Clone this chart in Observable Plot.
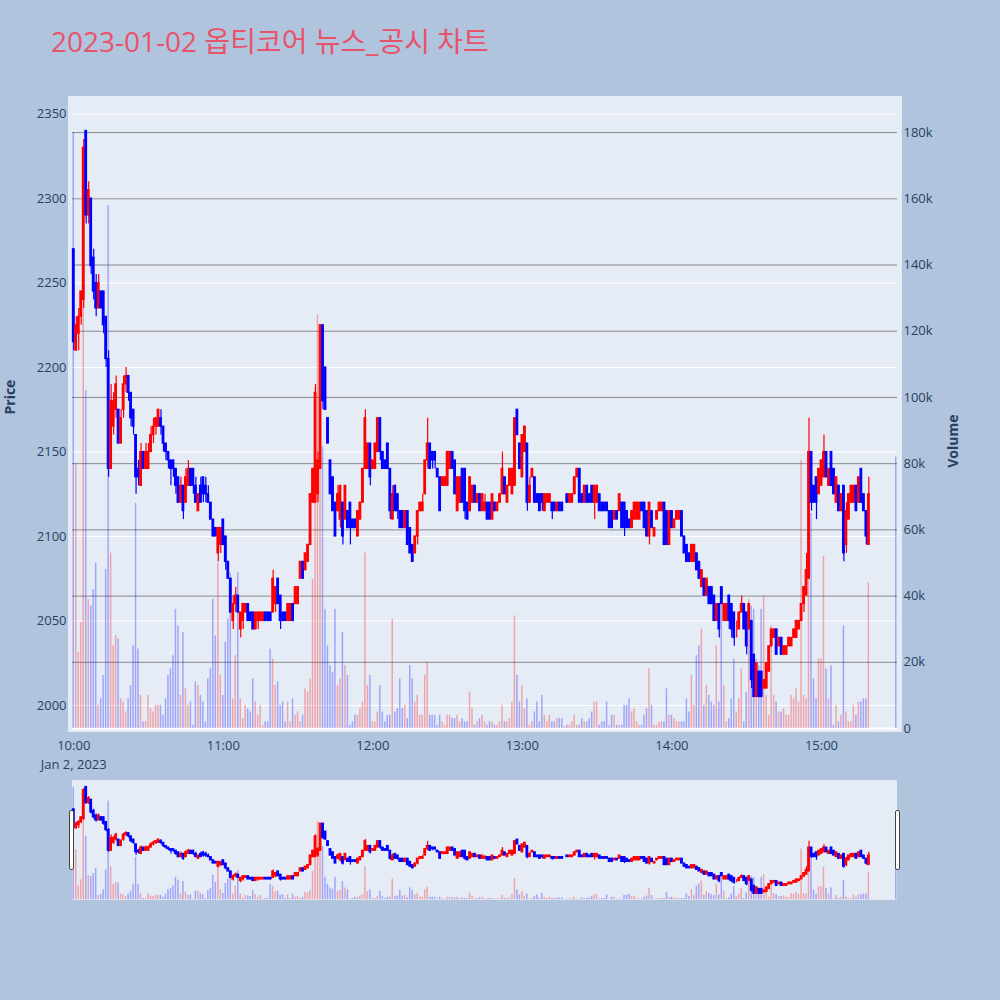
<!DOCTYPE html>
<html>
<head>
<meta charset="utf-8">
<script src="https://cdn.jsdelivr.net/npm/d3@7"></script>
<script src="https://cdn.jsdelivr.net/npm/@observablehq/plot@0.6"></script>
<style>
  html, body { margin: 0; padding: 0; background: #b0c4de; }
  #wrap { position: relative; width: 1000px; height: 1000px; overflow: hidden; background: #b0c4de; }
  .bg { position: absolute; background: #e5ecf6; }
  .grab { position: absolute; background: #ffffff; border: 1px solid #444; border-radius: 2px; box-sizing: border-box; }
</style>
</head>
<body>
<div id="wrap">
  <div class="bg" style="left:68px;top:96px;width:834px;height:636px;"></div>
  <div class="bg" style="left:72px;top:780px;width:825px;height:120px;"></div>
</div>
<script>
// ---------------- data ----------------
const chartTitle = "2023-01-02 옵티코어 뉴스_공시 차트";
const dateLabel = "Jan 2, 2023";
const hourTicks = [0, 60, 120, 180, 240, 300];          // minutes after 10:00
const hourLabels = ["10:00", "11:00", "12:00", "13:00", "14:00", "15:00"];
const auctionMinute = 330;                              // 15:30 closing auction (last entry)
const priceTicks = [2000, 2050, 2100, 2150, 2200, 2250, 2300, 2350];
const volumeTicks = [0, 20000, 40000, 60000, 80000, 100000, 120000, 140000, 160000, 180000];
const volumeTickLabels = ["0", "20k", "40k", "60k", "80k", "100k", "120k", "140k", "160k", "180k"];

// one entry per minute from 10:00 to 15:19, then the 15:30 auction
const open = [
  2270,2210,2220,2230,2240,2340,2290,2300,2265,2250,2235,2245,2245,2230,2205,2140,2165,2175,2175,2155,
  2175,2190,2195,2185,2175,2160,2140,2130,2150,2140,2140,2150,2160,2165,2165,2170,2165,2155,2150,2145,
  2145,2140,2135,2120,2130,2120,2130,2140,2140,2130,2115,2130,2135,2130,2125,2120,2110,2105,2090,2095,
  2110,2100,2085,2075,2050,2060,2065,2045,2050,2055,2060,2055,2055,2045,2050,2050,2050,2055,2055,2055,
  2055,2060,2075,2065,2055,2055,2050,2050,2060,2060,2060,2075,2085,2080,2085,2095,2120,2120,2125,2140,
  2225,2200,2170,2145,2135,2120,2115,2110,2120,2110,2115,2120,2110,2110,2100,2110,2120,2140,2140,2155,
  2140,2140,2150,2170,2150,2145,2155,2140,2110,2130,2125,2115,2115,2105,2115,2105,2095,2090,2100,2115,
  2115,2125,2145,2155,2150,2150,2140,2135,2130,2130,2130,2140,2150,2145,2115,2120,2140,2140,2120,2115,
  2120,2130,2120,2125,2115,2115,2120,2120,2110,2120,2115,2120,2125,2135,2120,2130,2125,2130,2175,2155,
  2135,2150,2155,2120,2135,2135,2125,2125,2125,2115,2120,2120,2120,2120,2115,2120,2120,2130,2125,2120,
  2120,2125,2135,2140,2125,2120,2130,2125,2130,2120,2120,2125,2120,2120,2120,2115,2115,2110,2115,2115,
  2120,2120,2115,2110,2105,2110,2110,2110,2120,2120,2115,2100,2115,2100,2110,2115,2115,2120,2115,2095,
  2115,2105,2110,2110,2115,2100,2095,2090,2085,2085,2090,2085,2070,2075,2065,2070,2070,2065,2050,2060,
  2070,2050,2050,2065,2060,2055,2045,2045,2055,2060,2055,2045,2050,2030,2005,2020,2020,2010,2010,2020,
  2035,2040,2045,2035,2040,2030,2030,2035,2035,2040,2040,2045,2050,2060,2065,2075,2150,2130,2135,2125,
  2130,2135,2150,2130,2150,2140,2120,2130,2115,2130,2095,2110,2120,2120,2130,2120,2140,2125,2115,2095,
  2100
];
const high = [
  2270,2230,2235,2245,2335,2340,2310,2300,2270,2255,2255,2245,2245,2230,2210,2190,2185,2195,2175,2175,
  2195,2200,2195,2185,2175,2160,2145,2155,2150,2155,2155,2165,2170,2170,2175,2175,2165,2155,2150,2145,
  2145,2140,2135,2135,2130,2140,2145,2140,2140,2135,2125,2135,2135,2135,2130,2120,2110,2105,2105,2105,
  2110,2100,2085,2075,2065,2070,2065,2055,2060,2060,2060,2055,2055,2055,2055,2055,2055,2055,2055,2055,
  2080,2070,2075,2065,2055,2055,2060,2060,2060,2070,2070,2085,2085,2090,2095,2125,2140,2190,2150,2225,
  2225,2200,2170,2145,2135,2120,2130,2130,2120,2130,2115,2120,2110,2110,2115,2120,2140,2175,2155,2155,
  2145,2155,2170,2170,2150,2145,2155,2140,2130,2130,2125,2115,2115,2115,2115,2105,2095,2100,2115,2120,
  2125,2145,2170,2155,2150,2150,2140,2135,2135,2135,2150,2150,2150,2145,2135,2135,2140,2140,2120,2135,
  2130,2130,2125,2125,2125,2125,2120,2120,2125,2120,2120,2125,2150,2135,2130,2140,2140,2170,2175,2155,
  2160,2165,2155,2135,2140,2135,2125,2125,2125,2125,2125,2125,2120,2120,2120,2120,2120,2130,2125,2125,
  2125,2135,2140,2140,2125,2130,2130,2125,2130,2130,2130,2125,2120,2120,2120,2115,2115,2115,2115,2125,
  2120,2120,2115,2110,2115,2120,2120,2120,2120,2120,2115,2120,2115,2105,2115,2120,2120,2120,2115,2115,
  2115,2110,2115,2115,2115,2100,2095,2090,2095,2095,2090,2085,2080,2075,2075,2070,2070,2065,2060,2060,
  2070,2060,2060,2065,2060,2055,2050,2055,2065,2060,2055,2060,2050,2030,2025,2020,2020,2015,2025,2035,
  2045,2045,2045,2040,2040,2035,2035,2040,2040,2045,2050,2050,2060,2070,2090,2170,2150,2130,2135,2140,
  2145,2160,2150,2140,2150,2140,2135,2130,2125,2130,2120,2125,2130,2130,2130,2135,2140,2125,2115,2135,
  2100
];
const low = [
  2210,2210,2210,2225,2235,2285,2285,2255,2240,2230,2235,2235,2220,2200,2135,2140,2160,2170,2155,2155,
  2170,2185,2180,2165,2160,2125,2130,2130,2140,2140,2140,2150,2155,2160,2165,2160,2150,2145,2140,2130,
  2135,2125,2120,2120,2110,2120,2130,2130,2125,2120,2115,2120,2120,2120,2120,2110,2100,2100,2085,2090,
  2095,2080,2075,2055,2045,2055,2055,2040,2045,2055,2050,2050,2045,2045,2045,2050,2050,2050,2050,2050,
  2055,2055,2060,2045,2050,2050,2050,2050,2050,2060,2060,2075,2075,2080,2085,2095,2120,2120,2120,2140,
  2175,2175,2155,2125,2115,2100,2115,2105,2095,2110,2105,2095,2105,2105,2100,2110,2120,2140,2140,2130,
  2140,2140,2150,2145,2140,2140,2140,2110,2110,2115,2110,2105,2105,2105,2095,2090,2085,2090,2095,2115,
  2115,2125,2140,2140,2140,2140,2135,2115,2130,2130,2130,2140,2140,2125,2115,2120,2120,2110,2110,2115,
  2120,2120,2120,2115,2115,2115,2110,2110,2110,2115,2115,2120,2125,2125,2120,2130,2125,2130,2160,2140,
  2135,2150,2115,2120,2135,2120,2120,2115,2115,2115,2120,2120,2110,2115,2115,2115,2115,2130,2120,2120,
  2120,2125,2135,2120,2120,2120,2120,2120,2120,2110,2120,2115,2115,2115,2115,2105,2105,2110,2110,2115,
  2105,2100,2105,2105,2105,2110,2110,2110,2115,2105,2100,2095,2105,2100,2110,2115,2115,2095,2095,2095,
  2105,2105,2110,2110,2100,2090,2085,2085,2085,2085,2080,2075,2070,2065,2065,2060,2060,2050,2050,2040,
  2060,2050,2050,2045,2040,2035,2040,2045,2055,2045,2030,2045,2010,2005,2005,2005,2005,2010,2010,2020,
  2035,2040,2030,2035,2030,2030,2030,2035,2035,2040,2040,2045,2050,2055,2065,2075,2115,2120,2110,2125,
  2130,2135,2135,2130,2130,2125,2120,2115,2115,2085,2090,2110,2120,2120,2115,2120,2120,2115,2095,2095,
  2100
];
const close = [
  2215,2225,2230,2245,2330,2290,2305,2260,2245,2235,2250,2235,2225,2205,2140,2180,2180,2190,2155,2170,
  2190,2195,2185,2170,2165,2135,2135,2150,2140,2150,2150,2160,2165,2170,2175,2165,2155,2150,2145,2140,
  2140,2130,2120,2130,2115,2135,2140,2130,2130,2120,2125,2120,2125,2125,2120,2110,2100,2100,2105,2105,
  2095,2085,2075,2055,2060,2065,2055,2055,2060,2060,2050,2050,2045,2055,2055,2055,2055,2050,2050,2050,
  2075,2070,2060,2050,2050,2050,2060,2060,2050,2070,2070,2085,2075,2090,2095,2125,2140,2185,2145,2225,
  2180,2175,2155,2125,2115,2100,2125,2130,2100,2130,2105,2105,2105,2105,2115,2120,2140,2170,2155,2135,
  2145,2155,2170,2150,2140,2140,2140,2115,2125,2115,2115,2105,2105,2115,2095,2090,2085,2100,2115,2120,
  2120,2145,2155,2140,2145,2145,2135,2115,2135,2135,2150,2150,2140,2125,2135,2135,2120,2115,2110,2135,
  2130,2120,2125,2115,2125,2120,2110,2110,2125,2115,2120,2125,2140,2125,2130,2140,2140,2170,2160,2140,
  2160,2165,2120,2130,2140,2120,2120,2115,2120,2125,2125,2125,2115,2115,2120,2115,2115,2130,2120,2125,
  2125,2135,2140,2120,2120,2130,2120,2120,2120,2130,2130,2115,2115,2115,2115,2105,2105,2115,2110,2125,
  2105,2105,2105,2105,2115,2120,2120,2120,2115,2105,2100,2120,2105,2105,2115,2120,2120,2095,2095,2115,
  2105,2110,2115,2115,2100,2090,2085,2085,2095,2095,2080,2075,2080,2065,2075,2060,2060,2050,2060,2045,
  2060,2060,2060,2050,2045,2040,2045,2055,2060,2045,2035,2060,2015,2005,2025,2005,2005,2015,2025,2035,
  2045,2045,2030,2040,2030,2035,2035,2040,2040,2045,2050,2050,2060,2070,2080,2150,2120,2120,2120,2140,
  2145,2150,2135,2140,2130,2125,2135,2115,2125,2090,2115,2125,2130,2130,2115,2135,2120,2115,2100,2125,
  2100
];
// volume in thousands of shares
const volumeK = [
  180,80,23,32,175,102,39,37,42,50,7,9,16,48,158,53,25,28,27,9,
  8,5,9,13,25,68,24,10,2,2,10,6,5,7,7,7,4,9,16,18,
  22,36,31,10,29,12,7,8,1,14,13,10,8,2,15,18,39,28,50,16,
  10,26,33,47,9,22,47,9,3,7,6,5,15,8,4,7,1,2,2,24,
  21,13,14,7,8,2,8,2,9,4,5,2,4,12,11,15,45,103,125,80,
  85,36,25,19,17,36,13,15,29,19,16,1,2,4,4,6,8,53,13,16,
  2,2,5,13,5,2,4,4,33,5,6,15,6,7,3,19,15,8,10,4,
  4,16,20,4,4,4,1,4,2,1,4,4,3,3,4,2,3,2,2,11,
  6,1,2,3,4,2,1,2,2,1,1,2,7,2,2,3,8,34,16,8,
  13,6,9,1,2,5,8,2,10,4,2,4,2,2,3,3,3,0.5,1,1,
  2,4,1,1,3,2,2,3,5,8,8,1,2,2,8,1,4,4,1,1,
  1,7,7,9,5,6,2,1,1,4,6,18,7,1,1,2,2,2,12,4,
  4,3,2,2,2,2,9,5,16,7,22,25,30,7,13,10,8,7,25,8,
  41,13,2,3,9,21,5,9,18,2,11,39,37,36,21,19,36,40,10,4,
  31,10,8,5,5,6,4,4,10,9,12,8,81,10,9,45,65,15,9,21,
  21,52,18,9,19,1,7,2,4,31,5,2,2,7,4,8,8,9,9,44,
  82
];

// ---------------- build ----------------
const RED = "#ff0000", BLUE = "#0000ff";
const n = open.length;
const rows = open.map((o, i) => {
  const c = close[i];
  const prev = i > 0 ? close[i - 1] : o;
  const up = c > o || (c === o && c >= prev);
  return {m: i === n - 1 ? auctionMinute : i, o, h: high[i], l: low[i], c, v: volumeK[i] * 1000, col: up ? RED : BLUE};
});

const W = 1000, H = 780;
const xDomain = [-0.5, 330.5];
const priceDomain = [1984, 2360.4];
const volDomain = [-1200, 190900];
const INK = "#2a3f5f";
const frame = (h, top, bottom) => ({width: W, height: h, marginLeft: 72, marginRight: 103, marginTop: top, marginBottom: bottom});
const style = {fontFamily: '"Open Sans", "Noto Sans", sans-serif', fontSize: "13px", color: INK, background: "transparent", overflow: "visible"};

const volumeBars = () => Plot.rect(rows, {x1: d => d.m - 0.3, x2: d => d.m + 0.3, y1: 0, y2: "v", fill: "col", fillOpacity: 0.3});
const candles = (wick) => [
  Plot.ruleX(rows, {x: "m", y1: "l", y2: "h", stroke: "col", strokeWidth: wick}),
  Plot.rect(rows, {x1: d => d.m - 0.32, x2: d => d.m + 0.32, y1: "o", y2: "c", fill: "col", stroke: "col", strokeWidth: 1.2})
];

const wrap = document.getElementById("wrap");
function place(el, top) {
  el.style.position = "absolute";
  el.style.left = "0px";
  el.style.top = top + "px";
  wrap.appendChild(el);
}

// price gridlines (white)
place(Plot.plot({
  ...frame(H, 96, H - 732), style,
  x: {domain: xDomain, axis: null},
  y: {domain: priceDomain, axis: null},
  marks: [Plot.ruleY(priceTicks, {stroke: "#ffffff", strokeWidth: 1})]
}), 0);

// volume layer (secondary axis on the right)
place(Plot.plot({
  ...frame(H, 96, H - 732), style,
  x: {domain: xDomain, axis: null},
  y: {domain: volDomain, axis: "right", ticks: volumeTicks, tickFormat: d => volumeTickLabels[volumeTicks.indexOf(d)], tickSize: 0, tickPadding: 6, label: null},
  color: {type: "identity"},
  marks: [
    Plot.ruleY(volumeTicks.slice(1), {stroke: "#8a8a8a", strokeWidth: 1}),
    Plot.ruleY([0], {stroke: "#ffffff", strokeWidth: 2}),
    volumeBars(),
    Plot.text(["Volume"], {frameAnchor: "right", dx: 56, rotate: -90, fontWeight: "bold", fontSize: 14, fill: INK})
  ]
}), 0);

// candles + price axis + time axis (time labels as text, first one carries the date line)
const timeLabel = (d, i) => i === 0 ? hourLabels[i] + "\n" + dateLabel : hourLabels[i];
place(Plot.plot({
  ...frame(H, 96, H - 732), style,
  x: {domain: xDomain, axis: null},
  y: {domain: priceDomain, ticks: priceTicks, tickFormat: d => String(d), tickSize: 0, tickPadding: 6, label: null},
  color: {type: "identity"},
  marks: [
    ...candles(1.2),
    Plot.text(hourTicks, {x: d => d, text: timeLabel, frameAnchor: "bottom", lineAnchor: "top", dy: 5, lineHeight: 1.4, fill: INK, fontSize: 13}),
    Plot.text(["Price"], {frameAnchor: "left", dx: -62, rotate: -90, fontWeight: "bold", fontSize: 14, fill: INK})
  ]
}), 0);

// range slider miniature
place(Plot.plot({
  ...frame(120, 0, 0), style,
  x: {domain: xDomain, axis: null},
  y: {domain: volDomain, axis: null},
  color: {type: "identity"},
  marks: [volumeBars()]
}), 780);
place(Plot.plot({
  ...frame(120, 0, 0), style,
  x: {domain: xDomain, axis: null},
  y: {domain: priceDomain, axis: null},
  color: {type: "identity"},
  marks: candles(1.2)
}), 780);

// slider grabbers
for (const left of [69, 895]) {
  const g = document.createElement("div");
  g.className = "grab";
  g.style.left = left + "px"; g.style.top = "810px"; g.style.width = "5px"; g.style.height = "60px";
  wrap.appendChild(g);
}

// title
const t = d3.select(wrap).append("svg")
  .attr("width", 1000).attr("height", 80)
  .style("position", "absolute").style("left", "0px").style("top", "0px");
t.append("text").attr("x", 51).attr("y", 52)
  .attr("fill", "#e8536a")
  .style("font-family", '"Open Sans", "Noto Sans CJK KR", sans-serif')
  .style("font-size", "28px")
  .text(chartTitle);
</script>
</body>
</html>
